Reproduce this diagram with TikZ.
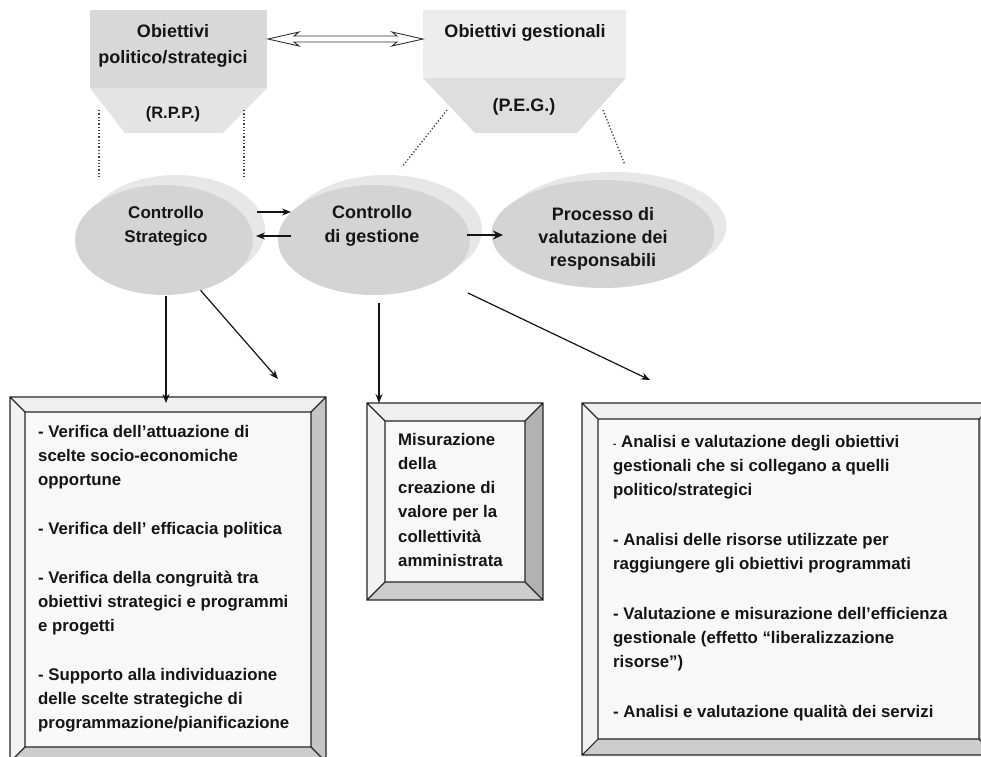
\documentclass[tikz,border=0pt]{standalone}
\usepackage{fontspec}
\setmainfont{Liberation Sans}
\usetikzlibrary{arrows.meta,shapes.geometric,calc}

\definecolor{inkc}{HTML}{151515}
\definecolor{hdrdark}{HTML}{D8D8D8}
\definecolor{hdrlight}{HTML}{E4E4E4}
\definecolor{hdrpale}{HTML}{EDEDED}
\definecolor{hdrmid}{HTML}{DEDEDE}
\definecolor{ovalfill}{HTML}{D4D4D4}
\definecolor{ovalshade}{HTML}{E7E7E7}
\definecolor{bvtop}{HTML}{EFEFEF}
\definecolor{bvleft}{HTML}{F3F3F3}
\definecolor{bvright}{HTML}{C6C6C6}
\definecolor{bvrightdk}{HTML}{B2B2B2}
\definecolor{bvbottom}{HTML}{CDCDCD}
\definecolor{bvface}{HTML}{F8F8F8}

% bevelled frame: outer corners (#1,#2)-(#3,#4), bevel width #5, name #6, right-side colour #7
\newcommand\bevelframe[7]{%
  \coordinate (#6-onw) at (#1,#2);
  \coordinate (#6-one) at (#3,#2);
  \coordinate (#6-ose) at (#3,#4);
  \coordinate (#6-osw) at (#1,#4);
  \coordinate (#6-inw) at ($(#1,#2)+(#5,#5)$);
  \coordinate (#6-ine) at ($(#3,#2)+(-#5,#5)$);
  \coordinate (#6-ise) at ($(#3,#4)+(-#5,-#5)$);
  \coordinate (#6-isw) at ($(#1,#4)+(#5,-#5)$);
  \fill[bvtop] (#6-onw) -- (#6-one) -- (#6-ine) -- (#6-inw) -- cycle;
  \fill[bvleft] (#6-onw) -- (#6-inw) -- (#6-isw) -- (#6-osw) -- cycle;
  \fill[#7] (#6-one) -- (#6-ose) -- (#6-ise) -- (#6-ine) -- cycle;
  \fill[bvbottom] (#6-osw) -- (#6-isw) -- (#6-ise) -- (#6-ose) -- cycle;
  \fill[bvface] (#6-inw) rectangle (#6-ise);
  \draw[frameline] (#6-onw) rectangle (#6-ose) (#6-inw) rectangle (#6-ise)
    (#6-onw) -- (#6-inw) (#6-one) -- (#6-ine)
    (#6-ose) -- (#6-ise) (#6-osw) -- (#6-isw);
}

\begin{document}
\begin{tikzpicture}[x=1pt,y=-1pt,
  frameline/.style={draw=black!85, line width=1.1pt},
  oval/.style={ellipse, fill=ovalfill, inner sep=0pt},
  ovalback/.style={ellipse, fill=ovalshade, inner sep=0pt},
  ovaltext/.style={font=\bfseries\fontsize{18}{24}\selectfont, text=inkc, align=center, inner sep=0pt},
  hdrtext/.style={font=\bfseries\fontsize{18}{26}\selectfont, text=inkc, align=center, inner sep=0pt},
  boxtext/.style={font=\bfseries\fontsize{16.8}{24.2}\selectfont, text=inkc, align=left, inner sep=0pt, anchor=north west},
  link/.style={draw=inkc, line width=1.2pt, -{Stealth[length=9pt,width=7pt]}},
  boldlink/.style={draw=inkc, line width=2.4pt, -{Stealth[length=10pt,width=9pt]}},
  hollowlink/.style={draw=black!80, fill=white, line width=0.9pt, line join=miter},
  guide/.style={draw=black!75, line width=1.3pt, dotted}
]
\useasboundingbox (0,0) rectangle (981,756);
\fill[white] (0,0) rectangle (981,756);
\clip (0,0) rectangle (981,756);

% ---- upper objective blocks ----
\fill[hdrdark] (90,10) rectangle (267,88);
\fill[hdrlight] (90,88) -- (267,88) -- (223,133) -- (125,133) -- cycle;
\node[hdrtext] (ops) at (173,46) {Obiettivi\\politico/strategici};
\node[hdrtext, font=\bfseries\fontsize{16.5}{20}\selectfont] (rpp) at (173,114) {(R.P.P.)};

\fill[hdrpale] (423,10) rectangle (626,78);
\fill[hdrmid] (423,78) -- (626,78) -- (577,133) -- (475,133) -- cycle;
\node[hdrtext] (og) at (525,33) {Obiettivi gestionali};
\node[hdrtext] (peg) at (524,107) {(P.E.G.)};

% two-way hollow link between the blocks
\coordinate (dal) at (268,39);
\coordinate (dar) at (423,39);
\draw[hollowlink] (dal) -- ++(31,-7) -- ++(-5,4) -- ($(dar)+(-26,-3)$) -- ++(-5,-4)
  -- (dar) -- ++(-31,7) -- ++(5,-4) -- ($(dal)+(26,3)$) -- ++(5,4) -- cycle;

% ---- control ovals ----
\node[ovalback, minimum width=178, minimum height=110] (csb) at (176,230) {};
\node[ovalback, minimum width=192, minimum height=110] (cgb) at (386,230) {};
\node[ovalback, minimum width=223, minimum height=108] (pvb) at (615,226) {};
\node[oval, minimum width=178, minimum height=110] (cs) at (164,240) {};
\node[oval, minimum width=192, minimum height=110] (cg) at (374,240) {};
\node[oval, minimum width=223, minimum height=108] (pv) at (603,234) {};

\node[ovaltext, font=\bfseries\fontsize{17}{24}\selectfont] (cst) at (166,226) {Controllo\\Strategico};
\node[ovaltext] (cgt) at (372,226) {Controllo\\di gestione};
\node[ovaltext, font=\bfseries\fontsize{18}{23}\selectfont] (pvt) at (603,239) {Processo di\\valutazione dei\\responsabili};

% dotted guides from the blocks down to the ovals
\coordinate (g1a) at (99,110);  \coordinate (g1b) at (99,178);
\coordinate (g2a) at (244,110); \coordinate (g2b) at (244,178);
\coordinate (g3a) at (447,110); \coordinate (g3b) at (402,167);
\coordinate (g4a) at (603,110); \coordinate (g4b) at (625,165);
\draw[guide] (g1a) -- (g1b);
\draw[guide] (g2a) -- (g2b);
\draw[guide] (g3a) -- (g3b);
\draw[guide] (g4a) -- (g4b);

% arrows between the ovals
\coordinate (h1a) at (257,212); \coordinate (h1b) at (291,212);
\coordinate (h2a) at (291,236); \coordinate (h2b) at (256,236);
\coordinate (h3a) at (467,235); \coordinate (h3b) at (503,235);
\draw[link] (h1a) -- (h1b);
\draw[link] (h2a) -- (h2b);
\draw[boldlink] (h3a) -- (h3b);

% ---- result frames ----
\bevelframe{10}{397}{326}{762}{15}{fa}{bvright}
\bevelframe{367}{403}{543}{600}{18}{fb}{bvrightdk}
\bevelframe{582}{403}{995}{755}{16}{fc}{bvright}

\node[boxtext] (ta) at (38,425) {%
- Verifica dell’attuazione di\\
scelte socio-economiche\\
opportune\\[24.6pt]
- Verifica dell’ efficacia politica\\[24.6pt]
- Verifica della congruità tra\\
obiettivi strategici e programmi\\
e progetti\\[24.6pt]
- Supporto alla individuazione\\
delle scelte strategiche di\\
programmazione/pianificazione};

\node[boxtext] (tb) at (398,433) {%
Misurazione\\
della\\
creazione di\\
valore per la\\
collettività\\
amministrata};

\node[boxtext] (tc) at (613,435) {%
{\fontsize{10}{10}\selectfont -} Analisi e valutazione degli obiettivi\\
gestionali che si collegano a quelli\\
politico/strategici\\[25.5pt]
- Analisi delle risorse utilizzate per\\
raggiungere gli obiettivi programmati\\[25.5pt]
- Valutazione e misurazione dell’efficienza\\
gestionale (effetto “liberalizzazione\\
risorse”)\\[25.5pt]
- Analisi e valutazione qualità dei servizi};

% arrows from the ovals to the frames
\coordinate (d1a) at (166,296); \coordinate (d1b) at (166,403);
\coordinate (d2b) at (278,379);
\coordinate (d3a) at (379,303); \coordinate (d3b) at (379,403);
\coordinate (d4a) at (468,293); \coordinate (d4b) at (650,380);
\draw[link] (d1a) -- (d1b);
\draw[link] (cs.-54) -- (d2b);
\draw[link] (d3a) -- (d3b);
\draw[link] (d4a) -- (d4b);
\end{tikzpicture}
\end{document}
